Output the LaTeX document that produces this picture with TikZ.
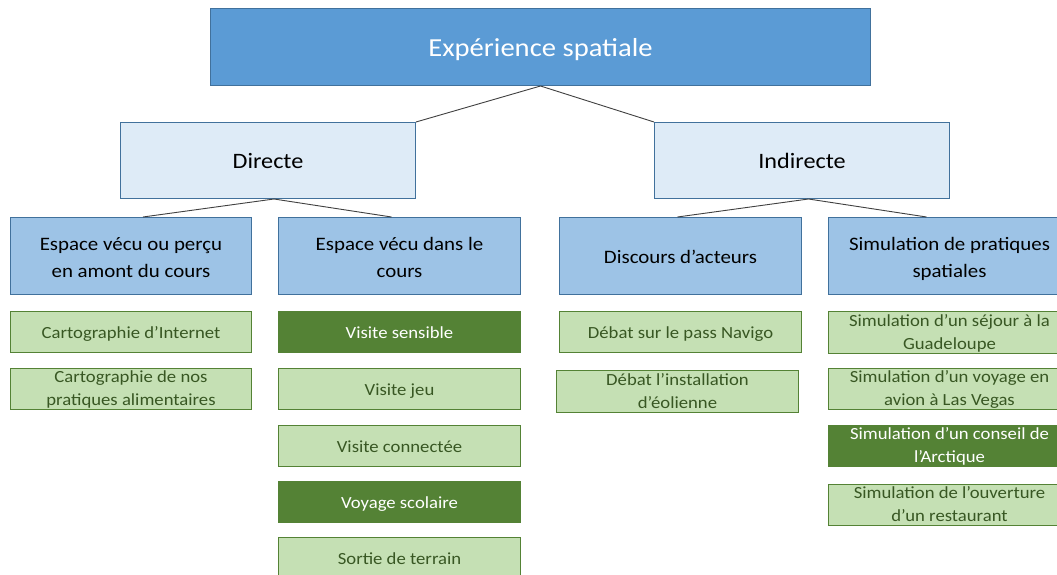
\documentclass[tikz,border=0pt]{standalone}
\usepackage{fontspec}
\setmainfont[FakeStretch=1.1]{Carlito}
\usetikzlibrary{calc}
\definecolor{topfill}{HTML}{5B9BD5}
\definecolor{bord}{HTML}{41719C}
\definecolor{ltwofill}{HTML}{DEEBF7}
\definecolor{lthreefill}{HTML}{9DC3E6}
\definecolor{gfill}{HTML}{C5E0B4}
\definecolor{gbord}{HTML}{548235}
\definecolor{gdark}{HTML}{548235}
\definecolor{gtext}{HTML}{385723}
\definecolor{conn}{HTML}{404040}
\newcommand\twol[2]{\raisebox{\dimexpr 0.12em+6pt-0.3\baselineskip\relax}[0pt][0pt]{\begin{tabular}{@{}c@{}}#1\\#2\end{tabular}}}
\begin{document}
\begin{tikzpicture}[x=1pt,y=-1pt,
 box/.style={draw, line width=1pt, inner sep=0pt, align=center, anchor=north west,
   execute at begin node={\rule{0pt}{1em}},
   execute at end node={\rule[-0.26em]{0pt}{0pt}}},
 topbox/.style={box, fill=topfill, draw=bord, text=white, font=\fontsize{26}{31}\selectfont},
 ltwo/.style={box, fill=ltwofill, draw=bord, text=black, font=\fontsize{22}{27}\selectfont},
 lthree/.style={box, fill=lthreefill, draw=bord, text=black, font=\fontsize{19}{26.7}\selectfont},
 gbox/.style={box, fill=gfill, draw=gbord, text=gtext, font=\fontsize{17}{23}\selectfont},
 gdbox/.style={box, fill=gdark, draw=gbord, text=white, font=\fontsize{17}{23}\selectfont},
 link/.style={draw=conn, line width=0.9pt}
]
\useasboundingbox (0,0) rectangle (1057,575);
\fill[white] (0,0) rectangle (1057,575);

\node[topbox, minimum width=660, minimum height=77] (top) at (210,8) {Expérience spatiale};
\node[ltwo, minimum width=295, minimum height=76] (dir) at (120,122) {Directe};
\node[ltwo, minimum width=295, minimum height=76] (ind) at (654,122) {Indirecte};

\node[lthree, minimum width=241, minimum height=77] (e1) at (10,217) {\twol{Espace vécu ou perçu}{en amont du cours}};
\node[lthree, minimum width=242, minimum height=77] (e2) at (278,217) {\twol{Espace vécu dans le}{cours}};
\node[lthree, minimum width=242, minimum height=77] (d) at (559,217) {Discours d’acteurs};
\node[lthree, minimum width=242, minimum height=77] (s) at (828,217) {\twol{Simulation de pratiques}{spatiales}};

\node[gbox, minimum width=241, minimum height=41] (g11) at (10,311) {Cartographie d’Internet};
\node[gbox, minimum width=241, minimum height=41] (g12) at (10,368) {\twol{Cartographie de nos}{pratiques alimentaires}};

\node[gdbox, minimum width=242, minimum height=41] (g21) at (278,311) {Visite sensible};
\node[gbox, minimum width=242, minimum height=41] (g22) at (278,368) {Visite jeu};
\node[gbox, minimum width=242, minimum height=41] (g23) at (278,425) {Visite connectée};
\node[gdbox, minimum width=242, minimum height=41] (g24) at (278,481) {Voyage scolaire};
\node[gbox, minimum width=242, minimum height=41] (g25) at (278,537) {Sortie de terrain};

\node[gbox, minimum width=242, minimum height=41] (g31) at (559,311) {Débat sur le pass Navigo};
\node[gbox, minimum width=242, minimum height=42] (g32) at (556,370) {\twol{Débat l’installation}{d’éolienne}};

\node[gbox, minimum width=242, minimum height=42] (g41) at (828,311) {\twol{Simulation d’un séjour à la}{Guadeloupe}};
\node[gbox, minimum width=242, minimum height=41] (g42) at (828,368) {\twol{Simulation d’un voyage en}{avion à Las Vegas}};
\node[gdbox, minimum width=242, minimum height=41] (g43) at (828,425) {\twol{Simulation d’un conseil de}{l’Arctique}};
\node[gbox, minimum width=242, minimum height=41] (g44) at (828,484) {\twol{Simulation de l’ouverture}{d’un restaurant}};

\draw[link] (top.south) -- (dir.north east);
\draw[link] (top.south) -- (ind.north west);
\draw[link] ($(dir.south)+(6,0)$) -- ($(e1.north)+(12,0)$);
\draw[link] ($(dir.south)+(6,0)$) -- ($(e2.north)+(-8,0)$);
\draw[link] ($(ind.south)+(6.5,0)$) -- ($(d.north)+(-3,0)$);
\draw[link] ($(ind.south)+(6.5,0)$) -- ($(s.north)+(-23,0)$);
\end{tikzpicture}
\end{document}
